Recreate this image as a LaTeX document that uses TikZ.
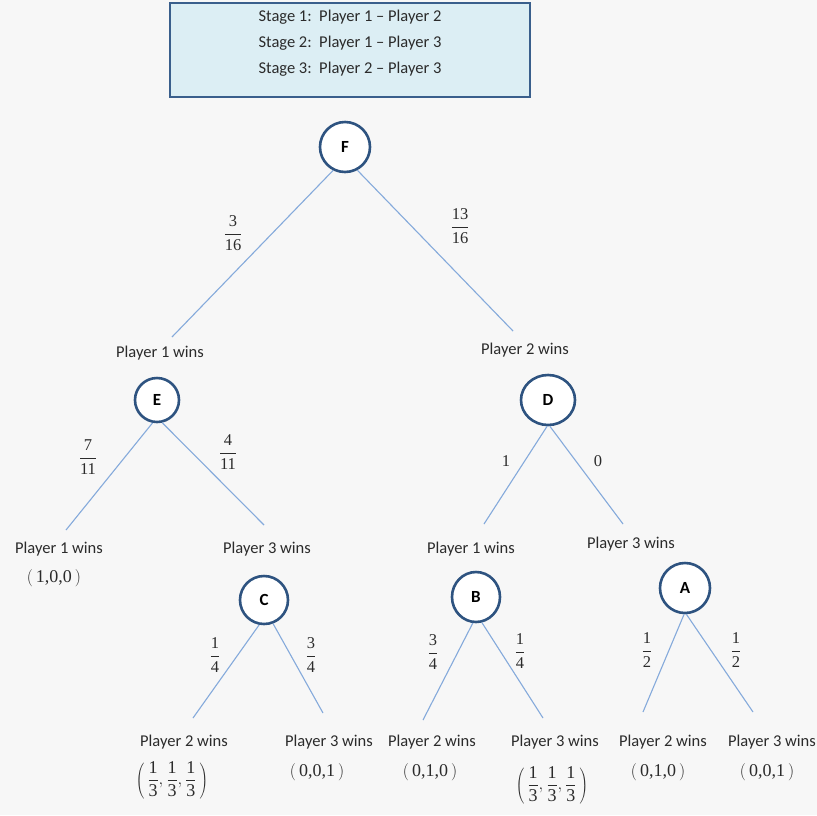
\documentclass[tikz,border=0pt]{standalone}
\usepackage{fontspec}
\setmainfont{Liberation Serif}
\newfontfamily\lab{Carlito}
\usetikzlibrary{shapes.geometric}
\definecolor{bg}{HTML}{F7F7F7}
\definecolor{boxfill}{HTML}{DCEEF4}
\definecolor{boxline}{HTML}{3A5F8C}
\definecolor{circ}{HTML}{2E5380}
\definecolor{edge}{HTML}{85AADB}
\definecolor{txt}{HTML}{2B2B2B}
\newcommand{\fr}[2]{$\displaystyle{\hbox{#1}\over\hbox{#2}}$}
\newcommand{\tup}[1]{$\left(\hbox{\,#1\,}\right)$}
\tikzset{
  st/.style={ellipse,draw=circ,line width=2.6pt,fill=white,inner sep=0pt,font=\lab\fontsize{17}{20}\selectfont\bfseries},
  lb/.style={font=\lab\fontsize{16.5}{19}\selectfont,text=txt,inner sep=0pt},
  pr/.style={font=\fontsize{16.5}{19}\selectfont,text=txt,inner sep=0pt},
  tp/.style={font=\fontsize{18}{21}\selectfont,text=txt,inner sep=0pt},
  ed/.style={draw=edge,line width=1.1pt}
}
\begin{document}
\begin{tikzpicture}[x=1pt,y=-1pt]
\fill[bg] (0,0) rectangle (817,815);
\useasboundingbox (0,0) rectangle (817,815);
% header box
\node[draw=boxline,line width=2.6pt,fill=boxfill,minimum width=360pt,minimum height=94pt,inner sep=0pt] (box) at (350,50) {};
\node[lb] (s1) at (350,17) {Stage 1:\ \ Player 1 – Player 2};
\node[lb] (s2) at (350,43) {Stage 2:\ \ Player 1 – Player 3};
\node[lb] (s3) at (350,69) {Stage 3:\ \ Player 2 – Player 3};
% state nodes
\node[st,minimum width=50pt,minimum height=50pt] (F) at (345,147) {F};
\node[st,minimum width=44pt,minimum height=44pt] (E) at (157,400) {E};
\node[st,minimum width=54pt,minimum height=50pt] (D) at (548,400) {D};
\node[st,minimum width=48pt,minimum height=48pt] (C) at (264,600) {C};
\node[st,minimum width=48pt,minimum height=50pt] (B) at (476,597) {B};
\node[st,minimum width=50pt,minimum height=50pt] (A) at (685,588) {A};
% free ends
\coordinate (f1) at (172,337);
\coordinate (f2) at (513,331);
\coordinate (e1) at (66,530);
\coordinate (e2) at (264,525);
\coordinate (d1) at (484,524);
\coordinate (d2) at (623,524);
\coordinate (c1) at (193,718);
\coordinate (c2) at (323,713);
\coordinate (b1) at (423,720);
\coordinate (b2) at (543,718);
\coordinate (a1) at (643,712);
\coordinate (a2) at (753,712);
% edges
\draw[ed] (F.243) -- (f1);
\draw[ed] (F.298) -- (f2);
\draw[ed] (E.259) -- (e1);
\draw[ed] (E.283) -- (e2);
\draw[ed] (D.268) -- (d1);
\draw[ed] (D.274) -- (d2);
\draw[ed] (C.259) -- (c1);
\draw[ed] (C.291) -- (c2);
\draw[ed] (B.263) -- (b1);
\draw[ed] (B.283) -- (b2);
\draw[ed] (A.268) -- (a1);
\draw[ed] (A.273) -- (a2);
% probabilities
\node[pr] (pf1) at (233,233) {\fr{3}{16}};
\node[pr] (pf2) at (460,226) {\fr{13}{16}};
\node[pr] (pe1) at (88,457) {\fr{7}{11}};
\node[pr] (pe2) at (228,452) {\fr{4}{11}};
\node[pr] (pd1) at (506,461) {1};
\node[pr] (pd2) at (598,461) {0};
\node[pr] (pc1) at (215,655) {\fr{1}{4}};
\node[pr] (pc2) at (311,655) {\fr{3}{4}};
\node[pr] (pb1) at (433,652) {\fr{3}{4}};
\node[pr] (pb2) at (520,651) {\fr{1}{4}};
\node[pr] (pa1) at (647,650) {\fr{1}{2}};
\node[pr] (pa2) at (736,650) {\fr{1}{2}};
% outcome labels
\node[lb] (l1) at (160,353) {Player 1 wins};
\node[lb] (l2) at (525,350) {Player 2 wins};
\node[lb] (l3) at (59,549) {Player 1 wins};
\node[lb] (l4) at (267,549) {Player 3 wins};
\node[lb] (l5) at (471,549) {Player 1 wins};
\node[lb] (l6) at (631,544) {Player 3 wins};
\node[lb] (l7) at (184,742) {Player 2 wins};
\node[lb] (l8) at (329,742) {Player 3 wins};
\node[lb] (l9) at (432,742) {Player 2 wins};
\node[lb] (l10) at (555,742) {Player 3 wins};
\node[lb] (l11) at (663,742) {Player 2 wins};
\node[lb] (l12) at (772,742) {Player 3 wins};
% payoff vectors
\node[tp] (v1) at (54,578) {\tup{1,0,0}};
\node[tp] (v2) at (172,780) {$\left(\,\displaystyle{\hbox{1}\over\hbox{3}},{\hbox{1}\over\hbox{3}},{\hbox{1}\over\hbox{3}}\,\right)$};
\node[tp] (v3) at (317,772) {\tup{0,0,1}};
\node[tp] (v4) at (430,772) {\tup{0,1,0}};
\node[tp] (v5) at (552,785) {$\left(\,\displaystyle{\hbox{1}\over\hbox{3}},{\hbox{1}\over\hbox{3}},{\hbox{1}\over\hbox{3}}\,\right)$};
\node[tp] (v6) at (658,772) {\tup{0,1,0}};
\node[tp] (v7) at (767,772) {\tup{0,0,1}};
\end{tikzpicture}
\end{document}
